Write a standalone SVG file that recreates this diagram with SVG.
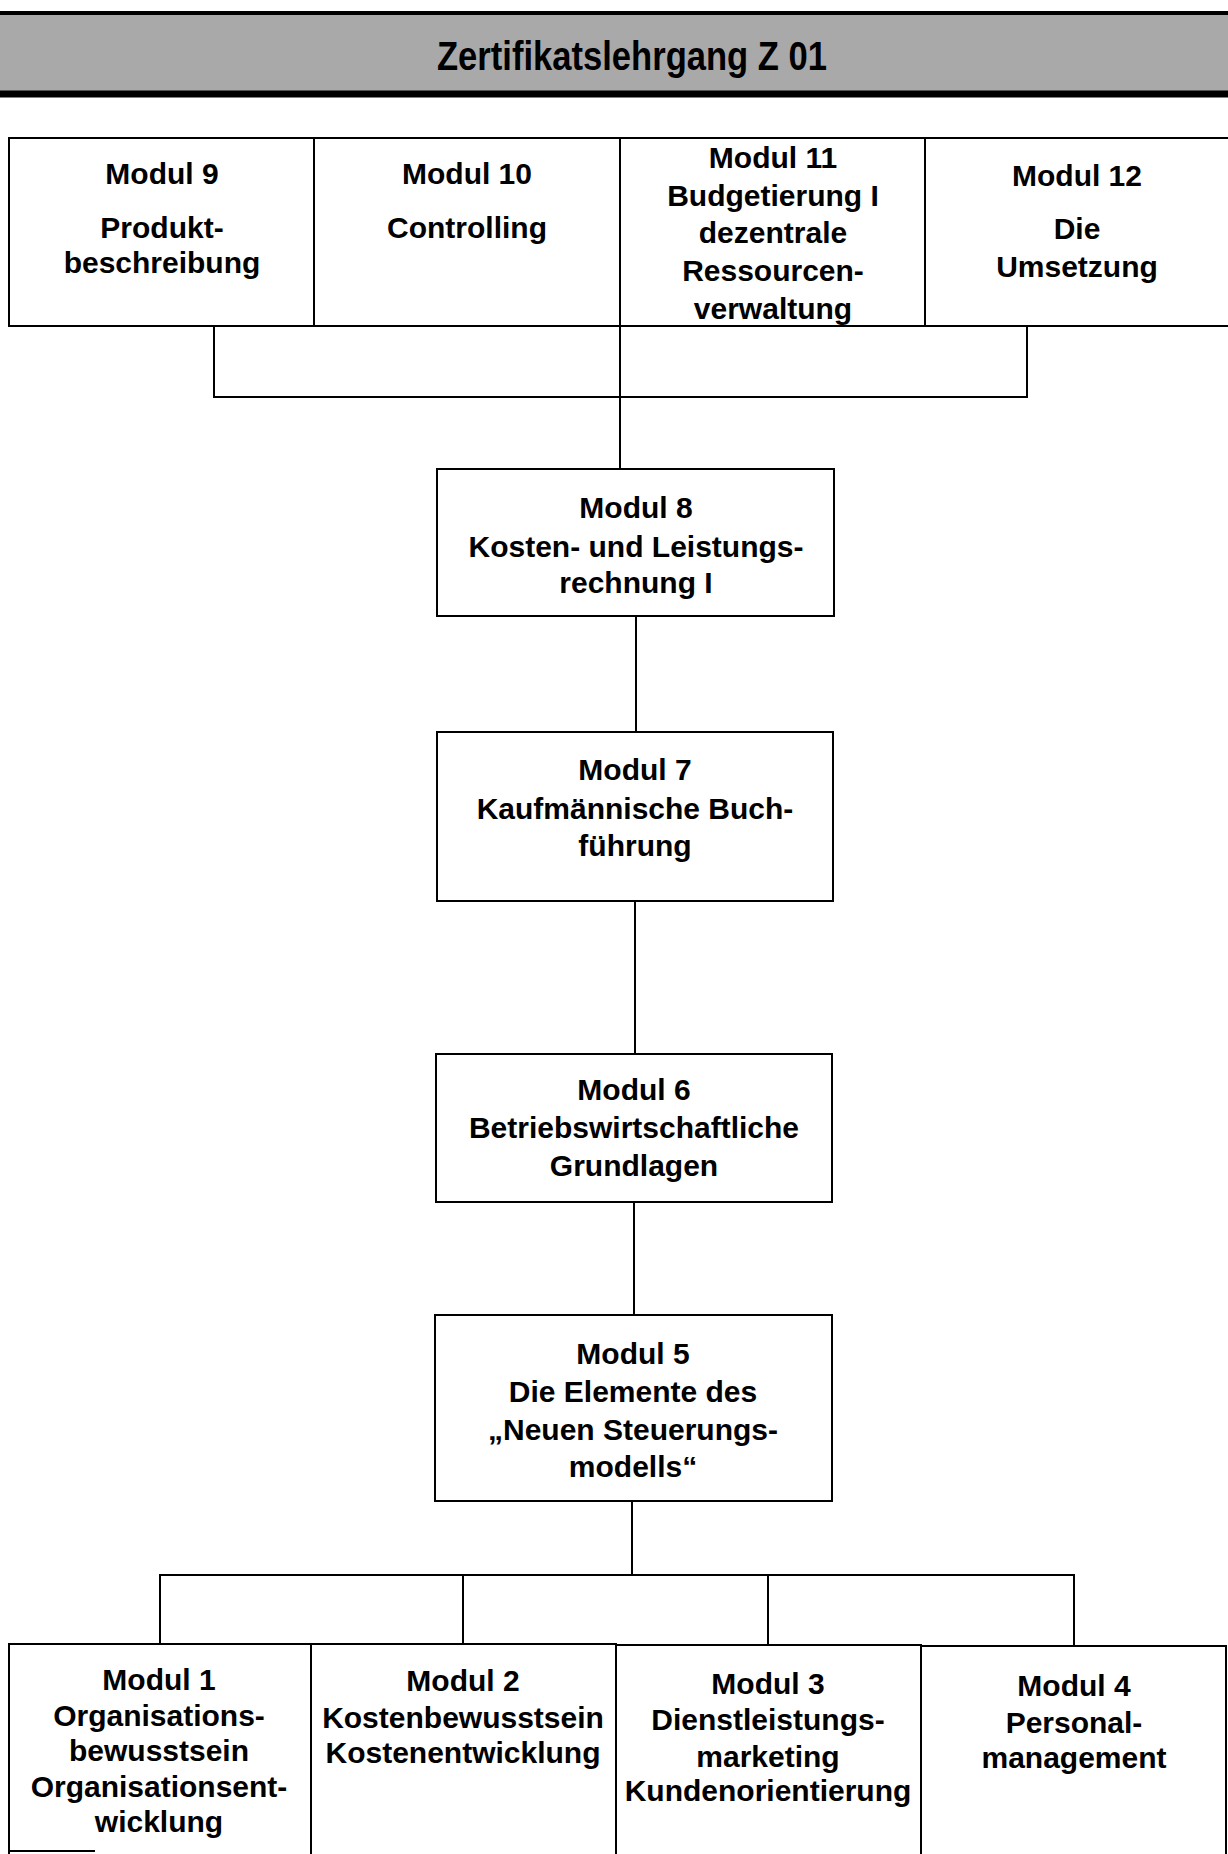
<svg xmlns="http://www.w3.org/2000/svg" width="1228" height="1854" viewBox="0 0 1228 1854">
<style>
.box{fill:#fff;stroke:#000;stroke-width:2}
.ln{stroke:#000;stroke-width:2;fill:none}
text{font-family:"Liberation Sans",Arial,sans-serif;font-weight:bold;font-size:30px;fill:#000;text-anchor:middle}
.title{font-size:40px}
</style>
<rect width="1228" height="1854" fill="#fff"/>
<g id="title">
<rect x="0" y="12" width="1228" height="84" fill="#a9a9a9"/>
<line x1="0" y1="13" x2="1228" y2="13" stroke="#000" stroke-width="4"/>
<line x1="0" y1="94" x2="1228" y2="94" stroke="#000" stroke-width="7"/>
<text class="title" x="632" y="70" textLength="390" lengthAdjust="spacingAndGlyphs">Zertifikatslehrgang Z 01</text>
</g>
<g id="connectors">
<polyline class="ln" points="214,326 214,397 1027,397 1027,326"/>
<line class="ln" x1="620" y1="326" x2="620" y2="469"/>
<line class="ln" x1="636" y1="616" x2="636" y2="732"/>
<line class="ln" x1="635" y1="901" x2="635" y2="1054"/>
<line class="ln" x1="634" y1="1202" x2="634" y2="1315"/>
<line class="ln" x1="632" y1="1501" x2="632" y2="1575"/>
<polyline class="ln" points="160,1644 160,1575 1074,1575 1074,1646"/>
<line class="ln" x1="463" y1="1575" x2="463" y2="1644"/>
<line class="ln" x1="768" y1="1575" x2="768" y2="1645"/>
</g>
<g id="modul9">
<rect class="box" x="9" y="138" width="305" height="188"/>
<text x="162" y="184">Modul 9</text>
<text x="162" y="238">Produkt-</text>
<text x="162" y="273">beschreibung</text>
</g>
<g id="modul10">
<rect class="box" x="314" y="138" width="306" height="188"/>
<text x="467" y="184">Modul 10</text>
<text x="467" y="238">Controlling</text>
</g>
<g id="modul11">
<rect class="box" x="620" y="138" width="305" height="188"/>
<text x="773" y="168">Modul 11</text>
<text x="773" y="206">Budgetierung I</text>
<text x="773" y="243">dezentrale</text>
<text x="773" y="281">Ressourcen-</text>
<text x="773" y="319">verwaltung</text>
</g>
<g id="modul12">
<rect class="box" x="925" y="138" width="310" height="188"/>
<text x="1077" y="186">Modul 12</text>
<text x="1077" y="239">Die</text>
<text x="1077" y="277">Umsetzung</text>
</g>
<g id="modul8">
<rect class="box" x="437" y="469" width="397" height="147"/>
<text x="636" y="518">Modul 8</text>
<text x="636" y="557">Kosten- und Leistungs-</text>
<text x="636" y="593">rechnung I</text>
</g>
<g id="modul7">
<rect class="box" x="437" y="732" width="396" height="169"/>
<text x="635" y="780">Modul 7</text>
<text x="635" y="819">Kaufmännische Buch-</text>
<text x="635" y="856">führung</text>
</g>
<g id="modul6">
<rect class="box" x="436" y="1054" width="396" height="148"/>
<text x="634" y="1100">Modul 6</text>
<text x="634" y="1138">Betriebswirtschaftliche</text>
<text x="634" y="1176">Grundlagen</text>
</g>
<g id="modul5">
<rect class="box" x="435" y="1315" width="397" height="186"/>
<text x="633" y="1364">Modul 5</text>
<text x="633" y="1402">Die Elemente des</text>
<text x="633" y="1440">„Neuen Steuerungs-</text>
<text x="633" y="1477">modells“</text>
</g>
<g id="modul1">
<rect class="box" x="9" y="1644" width="302" height="220"/>
<line class="ln" x1="9" y1="1851" x2="95" y2="1851"/>
<text x="159" y="1690">Modul 1</text>
<text x="159" y="1726">Organisations-</text>
<text x="159" y="1761">bewusstsein</text>
<text x="159" y="1797">Organisationsent-</text>
<text x="159" y="1832">wicklung</text>
</g>
<g id="modul2">
<rect class="box" x="311" y="1644" width="305" height="220"/>
<text x="463" y="1691">Modul 2</text>
<text x="463" y="1728">Kostenbewusstsein</text>
<text x="463" y="1763">Kostenentwicklung</text>
</g>
<g id="modul3">
<rect class="box" x="616" y="1645" width="305" height="220"/>
<text x="768" y="1694">Modul 3</text>
<text x="768" y="1730">Dienstleistungs-</text>
<text x="768" y="1767">marketing</text>
<text x="768" y="1801">Kundenorientierung</text>
</g>
<g id="modul4">
<rect class="box" x="921" y="1646" width="305" height="220"/>
<text x="1074" y="1696">Modul 4</text>
<text x="1074" y="1733">Personal-</text>
<text x="1074" y="1768">management</text>
</g>
</svg>
